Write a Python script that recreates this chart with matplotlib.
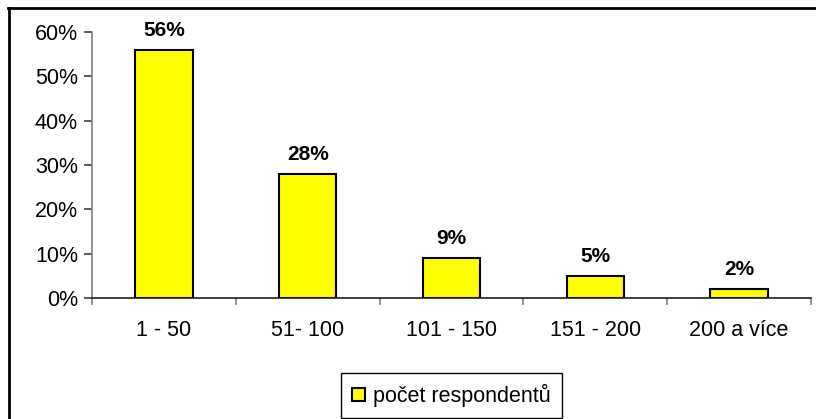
import matplotlib.pyplot as plt
from matplotlib.lines import Line2D
from matplotlib.ticker import PercentFormatter

plt.rcParams['font.family'] = ['Liberation Sans', 'DejaVu Sans']

categories = ['1 - 50', '51- 100', '101 - 150', '151 - 200', '200 a více']
shares = [0.56, 0.28, 0.09, 0.05, 0.02]
value_labels = ['56%', '28%', '9%', '5%', '2%']
series_name = 'počet respondentů'

fig = plt.figure(figsize=(8.16, 4.19), dpi=100)
ax = fig.add_axes([0.1127, 0.2888, 0.8812, 0.6348])

x = range(len(categories))
bars = ax.bar(x, shares, width=0.4, color='#ffff00', edgecolor='black',
              linewidth=1.5, label=series_name)

for b, lab in zip(bars, value_labels):
    ax.annotate(lab, (b.get_x() + b.get_width() / 2, b.get_height()),
                xytext=(0, 7), textcoords='offset points',
                ha='center', va='bottom', fontsize=15, fontweight='bold')

ax.set_xlim(-0.5, len(categories) - 0.5)
ax.set_ylim(0, 0.6)
ax.set_yticks([0, 0.1, 0.2, 0.3, 0.4, 0.5, 0.6])
ax.yaxis.set_major_formatter(PercentFormatter(1.0, decimals=0))
ax.set_xticks(x)
ax.set_xticklabels(categories)
# category boundary ticks on x axis
ax.set_xticks([i - 0.5 for i in range(len(categories) + 1)], minor=True)
ax.tick_params(axis='x', which='major', length=0, pad=16, labelsize=15.5)
ax.tick_params(axis='x', which='minor', length=5, width=1.2, color='#808080', direction='out')
ax.tick_params(axis='y', length=6, width=1.2, color='#404040', labelsize=15.5, pad=4)

for s in ['top', 'right']:
    ax.spines[s].set_visible(False)
ax.spines['left'].set_color('#808080')
ax.spines['left'].set_linewidth(1.2)
ax.spines['bottom'].set_color('#202020')
ax.spines['bottom'].set_linewidth(1.2)

leg = fig.legend(loc='center', bbox_to_anchor=(0.553, 0.056), fontsize=15.5,
                 fancybox=False, edgecolor='black', framealpha=1,
                 handlelength=0.6, handleheight=0.6, handletextpad=0.4,
                 borderpad=0.5)
leg.get_frame().set_linewidth(1.0)

# outer chart border (top and left only visible)
fig.add_artist(Line2D([8 / 816, 1.0], [1 - 8.5 / 419, 1 - 8.5 / 419],
                      transform=fig.transFigure, color='black', linewidth=2))
fig.add_artist(Line2D([8.5 / 816, 8.5 / 816], [0, 1 - 8 / 419],
                      transform=fig.transFigure, color='black', linewidth=2))

fig.savefig('out.png', dpi=100)
